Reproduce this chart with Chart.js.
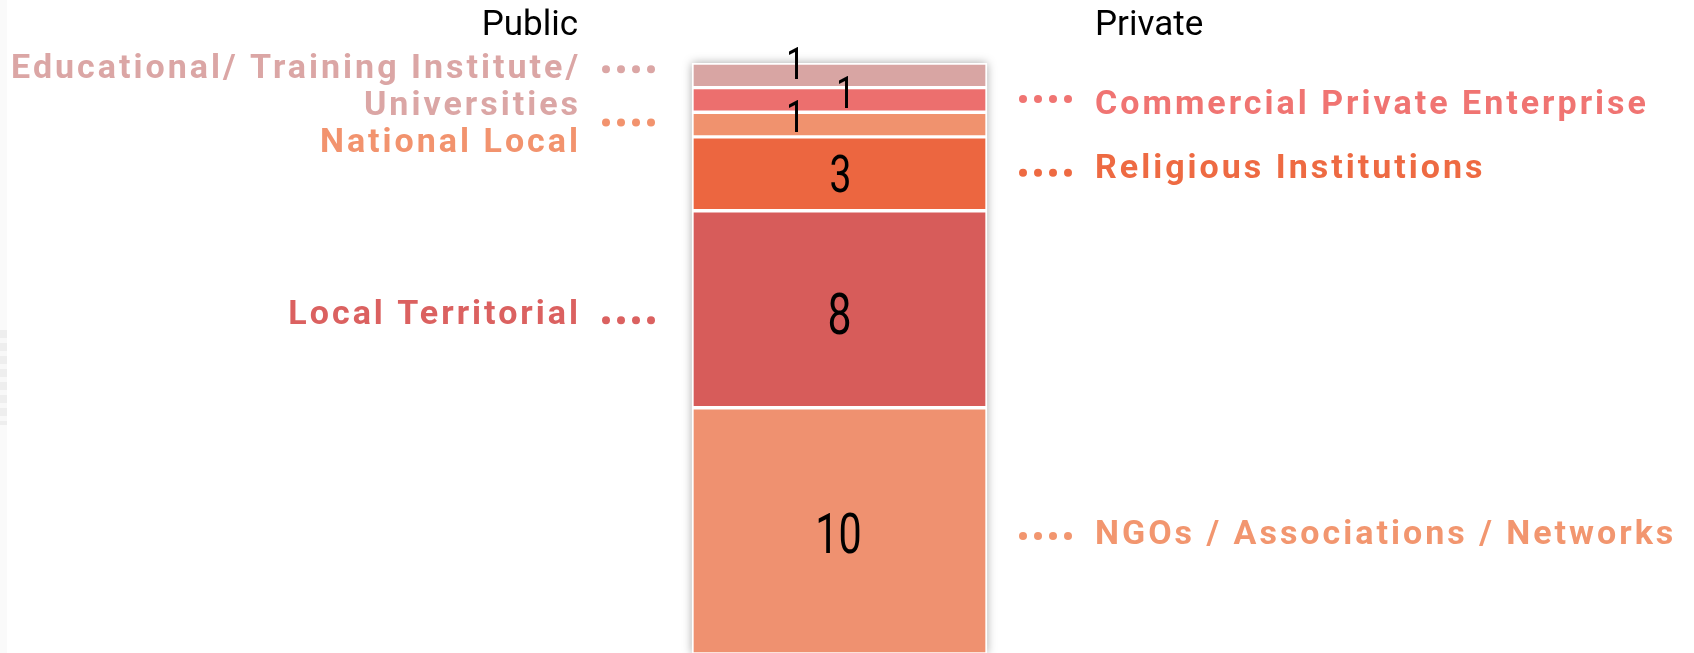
<!DOCTYPE html>
<html>
<head>
<meta charset="utf-8">
<script src="https://cdn.jsdelivr.net/npm/chart.js@4/dist/chart.umd.min.js"></script>
<style>
  html, body { margin:0; padding:0; background:#fff; overflow:hidden; width:1694px; height:653px; }
  #wrap { position:relative; width:1694px; height:656px; }
  #edge { position:absolute; left:0; top:0; width:7px; height:653px; background:#fafafa; }
  #edge2 { position:absolute; left:0; top:330px; width:7px; height:95px;
    background:repeating-linear-gradient(to bottom,#eeeeee 0px,#eeeeee 8px,#f8f8f8 8px,#f8f8f8 13px); }
</style>
</head>
<body>
<div id="wrap">
  <div id="edge"></div><div id="edge2"></div>
  <canvas id="c" width="1694" height="656"></canvas>
</div>
<script>
// ---- data (stack order: bottom to top) ----
const categories = ['Organisations'];
const seriesNames = [
  'NGOs / Associations / Networks',
  'Local Territorial',
  'Religious Institutions',
  'National Local',
  'Commercial Private Enterprise',
  'Educational/ Training Institute/ Universities'
];
const seriesValues = [10, 8, 3, 1, 1, 1];
const seriesSides = ['Private', 'Public', 'Private', 'Public', 'Private', 'Public'];
const seriesLabelLines = [
  ['NGOs / Associations / Networks'],
  ['Local Territorial'],
  ['Religious Institutions'],
  ['National Local'],
  ['Commercial Private Enterprise'],
  ['Educational/ Training Institute/', 'Universities']
];
const headerLabels = ['Public', 'Private'];
const axisMin = 0, axisMax = 24;

// ---- styling ----
const barColors  = ['#EF9170', '#D75C5A', '#EC6640', '#F0926E', '#EC6F6E', '#D8A5A3'];
const textColors = ['#F2966F', '#DB6160', '#EE6A42', '#F2936E', '#F07472', '#DBA6A5'];
// per-series label placement relative to segment centre (px)
const labelStyle = [
  { textDy: 1,   dotDy: 5,  numDx: -1,  numDy: 3,   numSize: 55 },
  { textDy: 3,   dotDy: 11, numDx: 0,   numDy: 4,   numSize: 57 },
  { textDy: -8,  dotDy: -1, numDx: 1,   numDy: 0,   numSize: 52 },
  { textDy: 15.5,dotDy: -2, numDx: -44, numDy: -8.5,numSize: 44 },
  { textDy: 1.5, dotDy: -1, numDx: 6,   numDy: -7.5,numSize: 44 },
  { textDy: -9,  dotDy: -6, numDx: -44, numDy: -12, numSize: 44 }
];
const LABEL_SIZE = 34, LABEL_SPACING = 3, LINE_GAP = 37;
const CAP = 0.711;

function drawSpaced(ctx, text, x, baseline, align, spacing) {
  ctx.letterSpacing = spacing + 'px';
  const w = ctx.measureText(text).width;
  ctx.textAlign = 'left';
  const sx = align === 'right' ? x - (w - spacing) : x;
  ctx.fillText(text, sx, baseline);
  ctx.letterSpacing = '0px';
}

const sidePlugin = {
  id: 'sideLabels',
  beforeDatasetsDraw(chart) {
    const ctx = chart.ctx;
    const first = chart.getDatasetMeta(0).data[0];
    const last = chart.getDatasetMeta(chart.data.datasets.length - 1).data[0];
    const left = first.x - first.width / 2, w = first.width;
    const top = last.y, bottom = first.base;
    ctx.save();
    ctx.shadowColor = 'rgba(0,0,0,0.35)';
    ctx.shadowBlur = 9;
    ctx.fillStyle = '#fff';
    ctx.fillRect(left, top, w, bottom - top);
    ctx.restore();
  },
  afterDatasetsDraw(chart) {
    const ctx = chart.ctx;
    const any = chart.getDatasetMeta(0).data[0];
    const barL = any.x - any.width / 2, barR = any.x + any.width / 2;
    const leftTextX = barL - 114, leftDotStart = barL - 90;
    const rightDotStart = barR + 32, rightTextX = barR + 108;
    ctx.save();
    // headers
    ctx.fillStyle = '#000';
    ctx.font = '400 35px Roboto';
    ctx.textBaseline = 'alphabetic';
    ctx.textAlign = 'right';
    ctx.fillText(headerLabels[0], leftTextX, 35);
    ctx.textAlign = 'left';
    ctx.fillText(headerLabels[1], rightTextX, 35);

    seriesNames.forEach((name, i) => {
      const el = chart.getDatasetMeta(i).data[0];
      const cy = (el.y + el.base) / 2;
      const st = labelStyle[i];
      const isLeft = seriesSides[i] === 'Public';
      ctx.fillStyle = textColors[i];
      // dots
      const dy = cy + st.dotDy;
      const d0 = isLeft ? leftDotStart : rightDotStart;
      for (let k = 0; k < 4; k++) {
        ctx.beginPath();
        ctx.arc(d0 + 4 + k * 15, dy, 4, 0, Math.PI * 2);
        ctx.fill();
      }
      // text
      ctx.font = `700 ${LABEL_SIZE}px Roboto`;
      const lines = seriesLabelLines[i];
      lines.forEach((ln, j) => {
        const base = cy + st.textDy + j * LINE_GAP + CAP * LABEL_SIZE / 2;
        drawSpaced(ctx, ln, isLeft ? leftTextX : rightTextX, base, isLeft ? 'right' : 'left', LABEL_SPACING);
      });
      // value
      ctx.save();
      ctx.fillStyle = '#000';
      ctx.translate(el.x + st.numDx, cy + st.numDy);
      ctx.scale(0.75, 1);
      ctx.font = `400 ${st.numSize}px Roboto`;
      ctx.textAlign = 'center';
      ctx.fillText(String(seriesValues[i]), 0, CAP * st.numSize / 2);
      ctx.restore();
    });
    ctx.restore();
  }
};

new Chart(document.getElementById('c'), {
  type: 'bar',
  data: {
    labels: categories,
    datasets: seriesNames.map((n, i) => ({
      label: n,
      data: [seriesValues[i]],
      backgroundColor: barColors[i],
      borderColor: '#ffffff',
      borderWidth: 2,
      borderSkipped: false,
      barThickness: 295
    }))
  },
  options: {
    responsive: false,
    animation: false,
    layout: { padding: { top: 63, bottom: 2, left: 0, right: 15 } },
    scales: {
      x: { stacked: true, display: false },
      y: { stacked: true, display: false, min: axisMin, max: axisMax }
    },
    plugins: { legend: { display: false }, tooltip: { enabled: false } }
  },
  plugins: [sidePlugin]
});
</script>
</body>
</html>
